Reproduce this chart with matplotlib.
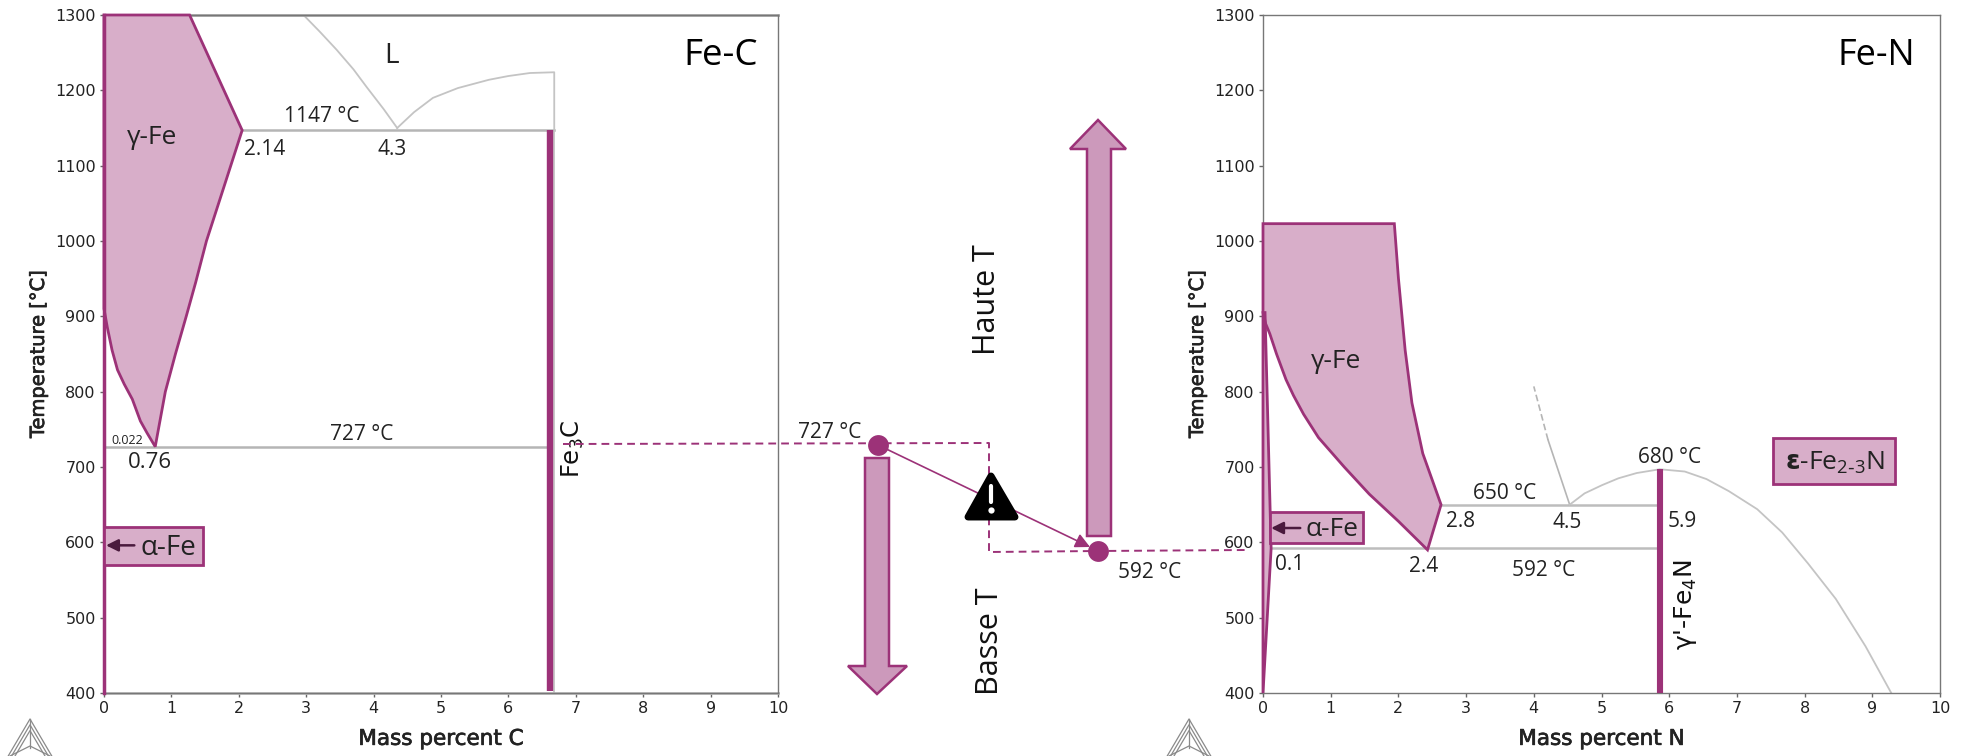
import matplotlib
matplotlib.use('Agg')
import matplotlib.pyplot as plt
import matplotlib.patheffects as pe
from matplotlib.patches import Polygon, Rectangle

plt.rcParams['font.family'] = ['Open Sans', 'DejaVu Sans']
plt.rcParams['mathtext.default'] = 'regular'

W, H = 1961, 756
MAGENTA = '#9c3278'
FILL = '#d8aec9'
ARROW_FILL = '#cc99bb'
GREY = '#c4c4c4'
DARK = '#4a1a3d'

xticks = list(range(0, 11))
yticks = list(range(400, 1301, 100))

# Fe-C diagram
fec_gamma_x = [0, 1.27, 2.05, 1.78, 1.52, 1.36, 1.22, 1.06, 0.91, 0.76,
               0.64, 0.54, 0.42, 0.3, 0.2, 0.12, 0.05, 0]
fec_gamma_t = [1300, 1300, 1147, 1072, 1000, 945, 900, 850, 800, 727,
               745, 761, 790, 810, 829, 855, 885, 910]
fec_liq_left_x = [2.96, 3.2, 3.45, 3.7, 3.9, 4.15, 4.35]
fec_liq_left_t = [1300, 1278, 1254, 1228, 1204, 1175, 1150]
fec_liq_right_x = [4.35, 4.6, 4.88, 5.25, 5.71, 6.0, 6.32, 6.68, 6.68]
fec_liq_right_t = [1150, 1171, 1190, 1203, 1214, 1219, 1223, 1224, 1147]

# Fe-N diagram
fen_gamma_x = [0, 1.94, 2.0, 2.1, 2.2, 2.36, 2.63, 2.43, 2.0, 1.57, 1.2, 0.82,
               0.6, 0.45, 0.34, 0.2, 0.1, 0.04, 0]
fen_gamma_t = [1023, 1023, 951, 855, 785, 718, 650, 590, 628, 664, 700, 739,
               770, 795, 816, 850, 877, 890, 905]
fen_alpha_x = [0, 0.12, 0.03, 0]
fen_alpha_t = [400, 592, 905, 905]
fen_liq_x = [4.53, 4.21]
fen_liq_t = [650, 736]
fen_liq_dash_x = [4.21, 4.0]
fen_liq_dash_t = [736, 807]
fen_dome_x = [4.53, 4.75, 5.01, 5.25, 5.52, 5.86, 6.23, 6.55, 6.88, 7.3, 7.67, 8.05, 8.46, 8.9, 9.28]
fen_dome_t = [650, 665, 676, 685, 692, 697, 694, 684, 668, 644, 613, 572, 525, 462, 400]

# middle part of the figure, in figure pixels
dash_x = [563, 989, 989, 1098, 1247]
dash_y = [444, 443, 552, 551, 550]
point_x = [878, 1098]
point_y = [445, 551]
arrow_down = [(865, 458), (889, 458), (889, 666), (907, 666), (877, 694), (848, 666), (865, 666)]
arrow_up = [(1087, 536), (1111, 536), (1111, 149), (1126, 149), (1098, 120), (1070, 149), (1087, 149)]
warning = [(991, 476), (1015, 517), (968, 517)]


def px(x):
    return x / W


def setup_axes(box, xlabel):
    left, right, top, bottom = box
    ax = fig.add_axes([px(left), 1 - bottom / H, px(right - left), (bottom - top) / H])
    ax.set_xlim(0, 10)
    ax.set_ylim(400, 1300)
    ax.set_xticks(xticks)
    ax.set_yticks(yticks)
    ax.tick_params(length=3, width=1, color='#666666', labelsize=11.5, pad=3)
    for lab in ax.get_xticklabels() + ax.get_yticklabels():
        lab.set_family('DejaVu Sans')
        lab.set_color('#222222')
    for s in ax.spines.values():
        s.set_color('#777777')
        s.set_linewidth(1.0)
    # the labels are a little heavier than regular, a thin stroke does that
    heavy = [pe.withStroke(linewidth=0.5, foreground='#222222')]
    ax.set_xlabel(xlabel, fontsize=15.5, family='DejaVu Sans', color='#222222',
                  labelpad=9, path_effects=heavy)
    ax.set_ylabel('Temperature [°C]', fontsize=14, family='DejaVu Sans', color='#222222',
                  labelpad=5, path_effects=heavy)
    return ax


def phase_box(ax, x0, x1, t0, t1):
    ax.add_patch(Rectangle((x0, t0), x1 - x0, t1 - t0, fc=FILL, ec=MAGENTA, lw=2, zorder=4, clip_on=False))


def small_arrow(ax, x_from, x_to, t):
    ax.annotate('', xy=(x_to, t), xytext=(x_from, t), zorder=6,
                arrowprops=dict(arrowstyle='-|>', color=DARK, lw=1.8, mutation_scale=18,
                                shrinkA=0, shrinkB=0))


def draw_logo(ax, cx):
    # three nested triangles, the image cuts them off at the bottom
    for size in [1.0, 0.8, 0.6]:
        apex_y = 748 - 29 * size
        base_y = 748 + 27 * size
        ax.plot([cx - 33 * size, cx, cx + 33 * size], [base_y, apex_y, base_y],
                color='#8a8a8a', lw=0.9)
    ax.plot([cx, cx], [719, 748], color='#8a8a8a', lw=0.9)
    ax.plot([cx - 20, cx, cx + 20], [756, 746, 756], color='#8a8a8a', lw=0.9)


fig = plt.figure(figsize=(W / 100, H / 100), dpi=100)

# Fe-C
ax1 = setup_axes((104, 778, 15, 693), 'Mass percent C')
ax1.fill(fec_gamma_x, fec_gamma_t, fc=FILL, ec=MAGENTA, lw=2, zorder=3, clip_on=False)
ax1.plot([0, 0], [400, 1300], color=MAGENTA, lw=2.5, zorder=4, clip_on=False)
ax1.plot([2.05, 6.68], [1147, 1147], color='#b5b5b5', lw=1.8)
ax1.plot([0.02, 6.57], [727, 727], color='#b5b5b5', lw=1.8)
ax1.plot(fec_liq_left_x, fec_liq_left_t, color=GREY, lw=1.3)
ax1.plot(fec_liq_right_x, fec_liq_right_t, color=GREY, lw=1.3)
ax1.plot([6.68, 6.68], [400, 1147], color=GREY, lw=1.3)
ax1.plot([6.62, 6.62], [403, 1147], color=MAGENTA, lw=4.6, solid_capstyle='butt', zorder=3)
ax1.plot([0, 10], [1300, 1300], color='#aaaaaa', lw=2, clip_on=False, zorder=2)
ax1.plot([0, 10], [400, 400], color='#bbbbbb', lw=2, clip_on=False, zorder=2)
phase_box(ax1, 0, 1.47, 570, 620)
small_arrow(ax1, 0.45, 0.03, 596)

lab = dict(color='#222222', ha='center', va='center')
ax1.text(0.72, 1137, 'γ-Fe', fontsize=19, **lab, zorder=5)
ax1.text(0.95, 592, 'α-Fe', fontsize=20, **lab, zorder=7)
ax1.text(4.27, 1245, 'L', fontsize=20, **lab)
ax1.text(9.15, 1245, 'Fe-C', fontsize=26.5, color='black', ha='center', va='center')
ax1.text(3.23, 1165, '1147 °C', fontsize=15, **lab)
ax1.text(2.38, 1122, '2.14', fontsize=15, **lab)
ax1.text(4.27, 1122, '4.3', fontsize=15, **lab)
ax1.text(3.82, 743, '727 °C', fontsize=15, **lab)
ax1.text(0.34, 735, '0.022', fontsize=9, **lab)
ax1.text(0.68, 706, '0.76', fontsize=16, **lab)
ax1.text(6.96, 686, 'Fe$_3$C', fontsize=17.5, rotation=90, family='DejaVu Sans',
         color='#111111', ha='center', va='bottom', zorder=5, clip_on=False)

# Fe-N
ax2 = setup_axes((1263, 1940, 15, 693), 'Mass percent N')
ax2.fill(fen_gamma_x, fen_gamma_t, fc=FILL, ec=MAGENTA, lw=2, zorder=3, clip_on=False)
ax2.fill(fen_alpha_x, fen_alpha_t, fc=FILL, ec=MAGENTA, lw=2, zorder=3, clip_on=False)
ax2.plot([0.12, 5.85], [592, 592], color='#bdbdbd', lw=1.8)
ax2.plot([2.63, 5.85], [650, 650], color='#bdbdbd', lw=1.8)
ax2.plot(fen_liq_x, fen_liq_t, color='#b5b5b5', lw=1.2)
ax2.plot(fen_liq_dash_x, fen_liq_dash_t, color='#b5b5b5', lw=1.2, ls=(0, (4, 2)))
ax2.plot(fen_dome_x, fen_dome_t, color=GREY, lw=1.3)
ax2.plot([5.87, 5.87], [400, 697], color=MAGENTA, lw=4.4, solid_capstyle='butt', zorder=3)
phase_box(ax2, 0.1, 1.47, 599, 640)
phase_box(ax2, 7.54, 9.34, 678, 738)
small_arrow(ax2, 0.55, 0.12, 619)

ax2.text(1.08, 840, 'γ-Fe', fontsize=19, **lab, zorder=5)
ax2.text(1.02, 617, 'α-Fe', fontsize=19, **lab, zorder=7)
ax2.text(8.44, 706, r'$\mathbf{ε}$-Fe$_{2\text{-}3}$N', fontsize=19, **lab, zorder=7)
ax2.text(9.06, 1245, 'Fe-N', fontsize=26, color='black', ha='center', va='center')
ax2.text(3.57, 665, '650 °C', fontsize=15, **lab)
ax2.text(6.0, 713, '680 °C', fontsize=15, **lab)
ax2.text(2.92, 628, '2.8', fontsize=15, **lab)
ax2.text(4.5, 626, '4.5', fontsize=15, **lab)
ax2.text(6.2, 628, '5.9', fontsize=15, **lab)
ax2.text(0.39, 570, '0.1', fontsize=15, **lab)
ax2.text(2.37, 568, '2.4', fontsize=15, **lab)
ax2.text(4.15, 562, '592 °C', fontsize=15, **lab)
ax2.text(6.24, 578, "γ'-Fe$_4$N", fontsize=18, rotation=90, family='DejaVu Sans',
         color='#111111', ha='center', va='top', zorder=5)

# overlay in figure pixels
over = fig.add_axes([0, 0, 1, 1], zorder=10)
over.set_xlim(0, W)
over.set_ylim(H, 0)
over.axis('off')
over.patch.set_alpha(0)

over.plot(dash_x, dash_y, color=MAGENTA, lw=1.4, ls=(0, (4, 2.6)))
over.annotate('', xy=(point_x[1] - 8, point_y[1] - 4), xytext=(point_x[0], point_y[0]),
              arrowprops=dict(arrowstyle='-|>', color=MAGENTA, lw=1.2, mutation_scale=22,
                              shrinkA=0, shrinkB=0))
over.plot(point_x, point_y, 'o', color=MAGENTA, ms=15, mew=0, zorder=5)
over.add_patch(Polygon(arrow_down, closed=True, fc=ARROW_FILL, ec=MAGENTA, lw=1.8))
over.add_patch(Polygon(arrow_up, closed=True, fc=ARROW_FILL, ec=MAGENTA, lw=1.8))
over.add_patch(Polygon(warning, closed=True, fc='black', ec='black', lw=5, joinstyle='round', zorder=6))
over.plot([991, 991], [486, 502], color='white', lw=3, zorder=7, solid_capstyle='round')
over.plot([991], [510], 'o', color='white', ms=4.5, mew=0, zorder=7)

tc = dict(fontsize=15, color='#222222', ha='center', va='center')
over.text(830, 432, '727 °C', **tc)
over.text(1150, 572, '592 °C', **tc)
over.text(987, 300, 'Haute T', fontsize=22, rotation=90, color='#111111', ha='center', va='center')
over.text(990, 641, 'Basse T', fontsize=22, rotation=90, color='#111111', ha='center', va='center')

draw_logo(over, 30)
draw_logo(over, 1189)

fig.savefig('out.png', dpi=100)
